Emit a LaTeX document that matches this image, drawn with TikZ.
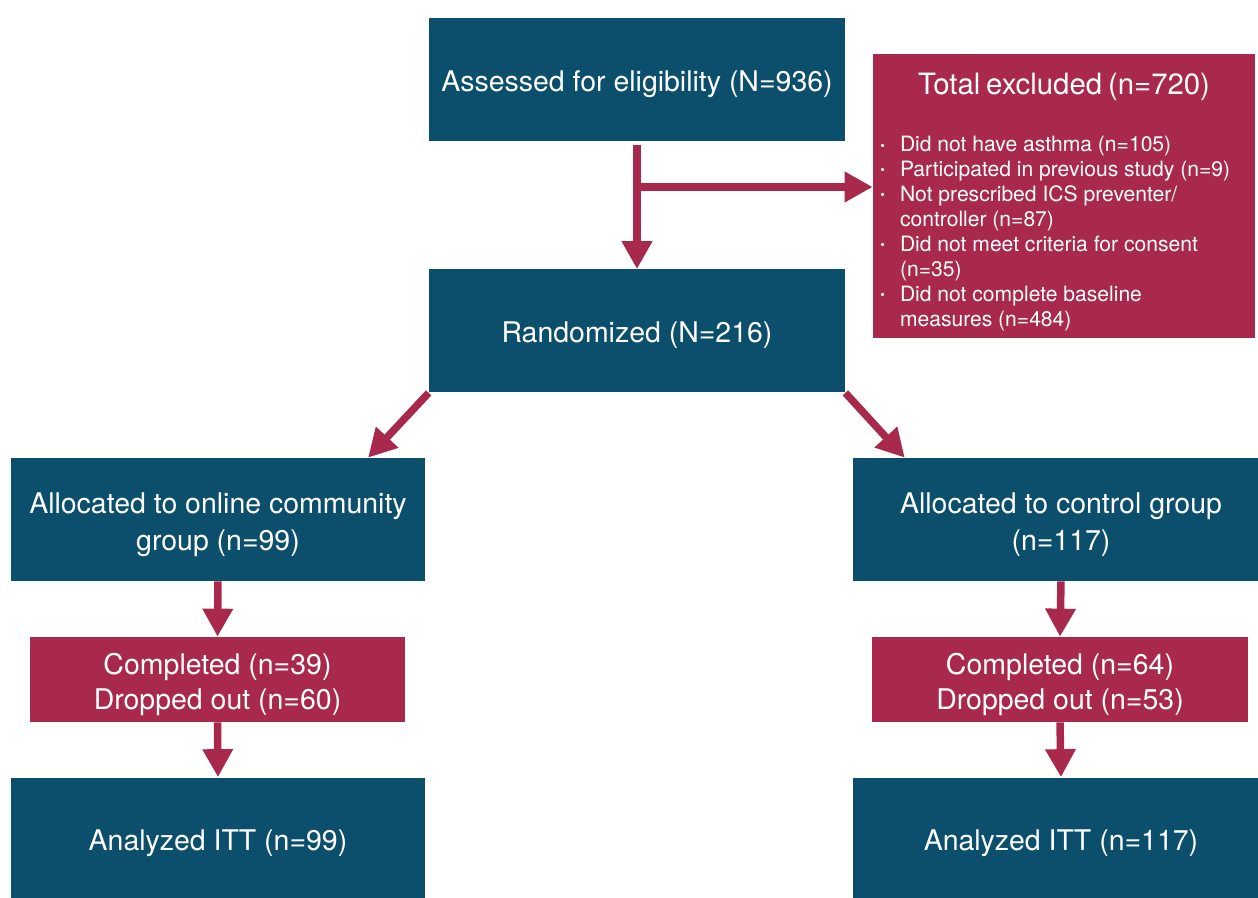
\documentclass[tikz,border=0pt]{standalone}
\usepackage{fontspec}
\setmainfont{TeX Gyre Heros}
\usepackage{tikz}
\usetikzlibrary{calc,positioning,arrows.meta}
\definecolor{cblue}{RGB}{11,79,108}
\definecolor{cwine}{RGB}{168,41,76}
\newcommand{\toplift}[1]{\rule{0pt}{#1}}
\newcommand{\dotmark}{\raisebox{0.8pt}{\fontsize{7.5}{7.5}\selectfont\textbullet}}
\tikzset{
    stage/.style={
    rectangle,fill=cblue,text=white,align=center,inner sep=0pt,minimum width=8.32cm,minimum height=2.46cm,font=\fontsize{16.2}{21}\selectfont,
    execute at begin node=\toplift{17pt}
    },
    pair/.style={
    execute at begin node=\toplift{38.7pt}
    },
    outcome/.style={
    rectangle,fill=cwine,text=white,align=center,inner sep=0pt,minimum height=1.7cm,font=\fontsize{16.2}{20}\selectfont,
    execute at begin node=\toplift{37.7pt}
    },
    exclbox/.style={
    rectangle,fill=cwine,text=white,align=left,inner xsep=0.1cm,inner ysep=0pt,text width=7.44cm,minimum height=5.68cm
    },
  flow/.style={draw=cwine, line width=0.15cm, -{Triangle[width=0.58cm,length=0.56cm]}},
}

\begin{document}
\begin{tikzpicture}
\useasboundingbox (0,0) rectangle (25.16,-17.96);
\clip (0,0) rectangle (25.16,-17.96);

  \node[stage] (elig) at (12.74,-1.59) {Assessed for eligibility (N=936)};
  \node[exclbox] (excl) at (21.28,-3.92) {%
    {\centering\fontsize{16.7}{19}\selectfont\rule{0pt}{18.7pt}Total excluded (n=720)\par}
    \vspace{18.3pt}
    \fontsize{12}{14.2}\selectfont
    \begin{list}{\hfil\dotmark}{\setlength{\leftmargin}{0.44cm}\setlength{\labelwidth}{0.1cm}\setlength{\labelsep}{0.3cm}%
      \setlength{\topsep}{0pt}\setlength{\partopsep}{0pt}\setlength{\itemsep}{0pt}\setlength{\parsep}{0pt}}
    \item Did not have asthma (n=105)
    \item Participated in previous study (n=9)
    \item Not prescribed ICS preventer/\\controller (n=87)
    \item Did not meet criteria for consent\\(n=35)
    \item Did not complete baseline\\measures (n=484)
    \end{list}};
  \node[stage] (rand) at (12.74,-6.62) {Randomized (N=216)};

  % two arms
  \node[stage,pair,minimum width=8.28cm] (onl) at (4.36,-10.39) {Allocated to online community\\group (n=99)};
  \node[stage,pair] (ctrl) at (21.22,-10.39) {Allocated to control group\\(n=117)};
  \node[outcome,minimum width=7.5cm] (onlout) at (4.35,-13.59) {Completed (n=39)\\Dropped out (n=60)};
  \node[outcome,minimum width=7.52cm] (ctrlout) at (21.2,-13.59) {Completed (n=64)\\Dropped out (n=53)};
  \node[stage,minimum width=8.28cm] (onlitt) at (4.36,-16.78) {Analyzed ITT (n=99)};
  \node[stage] (ctrlitt) at (21.22,-16.78) {Analyzed ITT (n=117)};

  \coordinate (split) at ($(elig.south)!0.357!(rand.north)$);
  \draw[flow] ([yshift=-2pt]elig.south) -- (rand.north);
  \draw[flow] (split) -- (split -| excl.west);
  \draw[flow] (rand.south west) -- ($(onl.north west)!0.862!(onl.north east)$);
  \draw[flow] (rand.south east) -- ($(ctrl.north west)!0.125!(ctrl.north east)$);
  \draw[flow] (onl.south) -- (onlout.north);
  \draw[flow] (onlout.south) -- (onlitt.north);
  \draw[flow] (ctrl.south) -- (ctrlout.north);
  \draw[flow] (ctrlout.south) -- (ctrlitt.north);
\end{tikzpicture}
\end{document}
